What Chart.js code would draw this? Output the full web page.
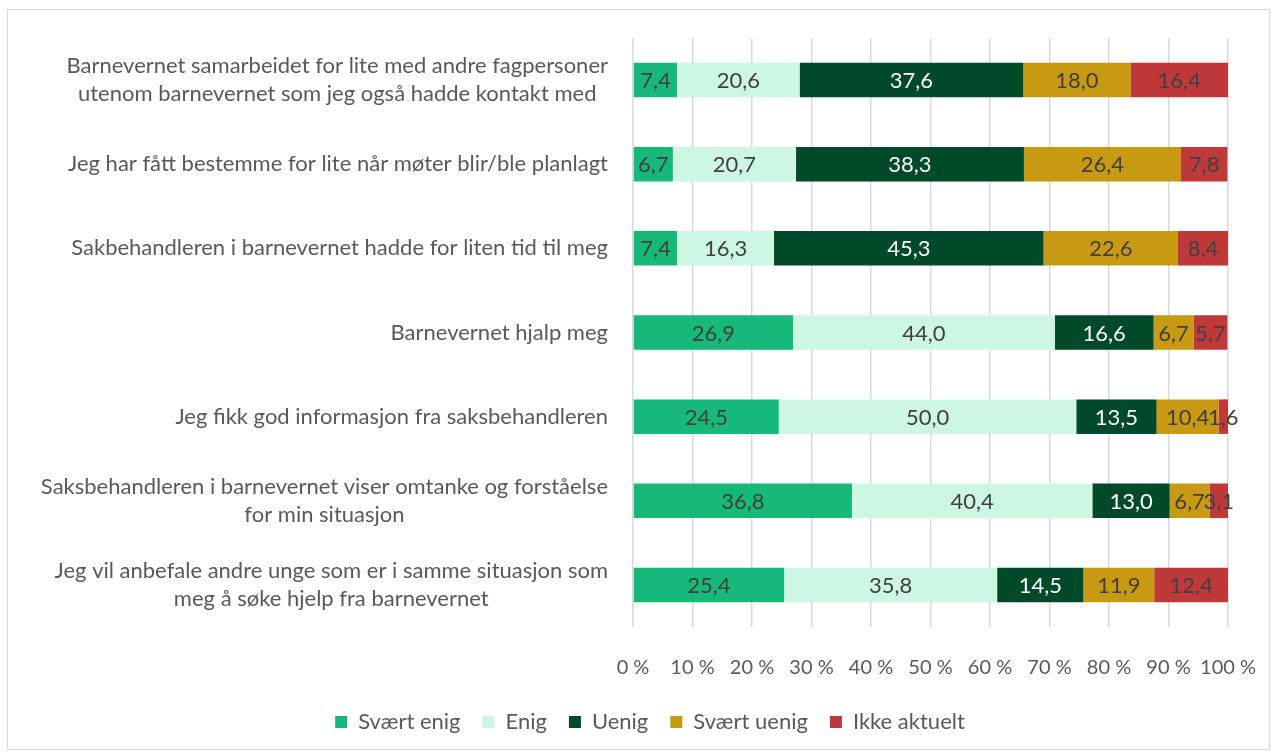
<!DOCTYPE html>
<html lang="no">
<head>
<meta charset="UTF-8">
<title>Barnevernet – vurderinger</title>
<script src="https://cdn.jsdelivr.net/npm/chart.js"></script>
<style>
  html, body { margin: 0; padding: 0; background: #ffffff; }
  #frame {
    position: absolute; left: 7px; top: 9px;
    width: 1261px; height: 739px;
    border: 1px solid #d9d9d9;
  }
  #chart { display: block; }
</style>
</head>
<body>
<div id="frame"><canvas id="chart" width="1261" height="739"></canvas></div>
<script>
// Spørsmål (kategorier), én rad per påstand
const questions = [
  ['Barnevernet samarbeidet for lite med andre fagpersoner', 'utenom barnevernet som jeg også hadde kontakt med'],
  ['Jeg har fått bestemme for lite når møter blir/ble planlagt'],
  ['Sakbehandleren i barnevernet hadde for liten tid til meg'],
  ['Barnevernet hjalp meg'],
  ['Jeg fikk god informasjon fra saksbehandleren'],
  ['Saksbehandleren i barnevernet viser omtanke og forståelse', 'for min situasjon'],
  ['Jeg vil anbefale andre unge som er i samme situasjon som', 'meg å søke hjelp fra barnevernet']
];

// Svaralternativer (serier), prosent
const svaertEnig   = [7.4, 6.7, 7.4, 26.9, 24.5, 36.8, 25.4];
const enig         = [20.6, 20.7, 16.3, 44.0, 50.0, 40.4, 35.8];
const uenig        = [37.6, 38.3, 45.3, 16.6, 13.5, 13.0, 14.5];
const svaertUenig  = [18.0, 26.4, 22.6, 6.7, 10.4, 6.7, 11.9];
const ikkeAktuelt  = [16.4, 7.8, 8.4, 5.7, 1.6, 3.1, 12.4];

const seriesNames = ['Svært enig', 'Enig', 'Uenig', 'Svært uenig', 'Ikke aktuelt'];
const seriesValues = [svaertEnig, enig, uenig, svaertUenig, ikkeAktuelt];
const seriesColors = ['#16b978', '#cdf7e2', '#004a2a', '#c89a14', '#c0393a'];
const labelColors  = ['#404040', '#404040', '#ffffff', '#404040', '#404040'];

const FONT = 'Lato, "Open Sans", sans-serif';
const FS = 22;
const TEXT = '#595959';

// Tekst på søylene (verdi med komma)
const valueLabels = {
  id: 'valueLabels',
  afterDatasetsDraw(chart) {
    const ctx = chart.ctx;
    ctx.save();
    ctx.font = FS + 'px ' + FONT;
    ctx.textAlign = 'center';
    ctx.textBaseline = 'middle';
    chart.data.datasets.forEach((ds, i) => {
      const meta = chart.getDatasetMeta(i);
      meta.data.forEach((bar, j) => {
        const cx = (bar.x + bar.base) / 2;
        ctx.fillStyle = labelColors[i];
        ctx.fillText(ds.data[j].toFixed(1).replace('.', ','), cx, bar.y + 1);
      });
    });
    ctx.restore();
  }
};

// Kategoritekster: høyrejustert blokk, hver linje sentrert
const categoryLabels = {
  id: 'categoryLabels',
  afterDraw(chart) {
    const ctx = chart.ctx;
    const yScale = chart.scales.y;
    const right = 600;
    const lineH = 28;
    ctx.save();
    ctx.font = FS + 'px ' + FONT;
    ctx.fillStyle = TEXT;
    ctx.textAlign = 'center';
    ctx.textBaseline = 'middle';
    questions.forEach((lines, i) => {
      const w = Math.max(...lines.map(l => ctx.measureText(l).width));
      const cx = right - w / 2;
      const y0 = yScale.getPixelForValue(i) - (lines.length - 1) * lineH / 2;
      lines.forEach((l, k) => ctx.fillText(l, cx, y0 + k * lineH));
    });
    ctx.restore();
  }
};

new Chart(document.getElementById('chart'), {
  type: 'bar',
  data: {
    labels: questions.map(q => q.join(' ')),
    datasets: seriesNames.map((name, i) => ({
      label: name,
      data: seriesValues[i],
      backgroundColor: seriesColors[i],
      borderWidth: 0,
      categoryPercentage: 0.41,
      barPercentage: 1
    }))
  },
  options: {
    indexAxis: 'y',
    responsive: false,
    animation: false,
    layout: { padding: { top: 28, left: 64, right: 41, bottom: 6 } },
    scales: {
      x: {
        stacked: true,
        min: 0,
        max: 100,
        ticks: {
          stepSize: 10,
          padding: 29,
          maxRotation: 0,
          minRotation: 0,
          autoSkip: false,
          color: TEXT,
          font: { family: FONT, size: 20 },
          callback: v => v + ' %'
        },
        grid: { color: '#d9d9d9', lineWidth: 1.5, drawTicks: false },
        border: { display: false },
        afterFit: s => { s.height = 62; s.paddingLeft = 0; s.paddingRight = 0; }
      },
      y: {
        stacked: true,
        ticks: { display: false },
        grid: { display: false },
        border: { display: false },
        afterFit: s => { s.width = 561; }
      }
    },
    plugins: {
      tooltip: { enabled: false },
      legend: {
        position: 'bottom',
        labels: {
          color: TEXT,
          font: { family: FONT, size: FS },
          boxWidth: 12,
          boxHeight: 12,
          padding: 22
        }
      }
    }
  },
  plugins: [valueLabels, categoryLabels]
});
</script>
</body>
</html>
